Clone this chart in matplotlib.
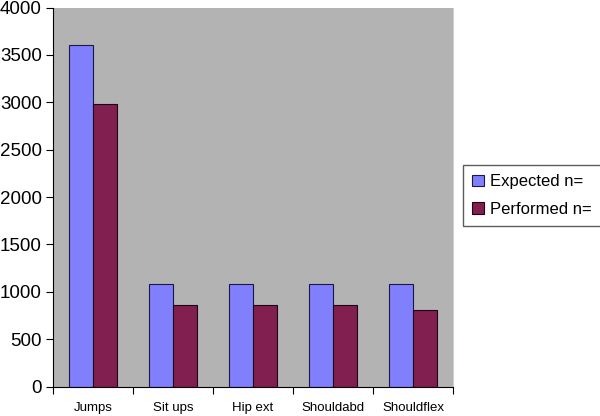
import matplotlib
matplotlib.use("Agg")
import matplotlib.pyplot as plt
import numpy as np

categories = ["Jumps", "Sit ups", "Hip ext", "Shouldabd", "Shouldflex"]
expected = [3600, 1080, 1080, 1080, 1080]
performed = [2980, 855, 855, 855, 810]
yticks = [0, 500, 1000, 1500, 2000, 2500, 3000, 3500, 4000]

plt.rcParams['font.family'] = ['Liberation Sans', 'DejaVu Sans']

fig = plt.figure(figsize=(6.0, 4.16), dpi=100)
ax = fig.add_axes([53/600, 1-386.5/416, 400/600, (386.5-7.5)/416])
ax.set_facecolor('#b3b3b3')

x = np.arange(len(categories))
w = 0.295
ax.bar(x - w/2, expected, w, color='#8080ff', edgecolor='#1a1a40', linewidth=0.8, label='Expected n=')
ax.bar(x + w/2, performed, w, color='#801f50', edgecolor='#200010', linewidth=0.8, label='Performed n=')

ax.set_xlim(-0.5, len(categories) - 0.5)
ax.set_ylim(0, 4000)
ax.set_yticks(yticks)
ax.set_yticklabels([str(v) for v in yticks], fontsize=13.5)
ax.set_xticks(np.arange(len(categories) + 1) - 0.5)
ax.set_xticklabels([])
ax.set_xticks(x, minor=True)
ax.set_xticklabels(categories, minor=True, fontsize=9.5)
ax.tick_params(axis='x', which='minor', length=0, pad=11)
ax.tick_params(axis='x', which='major', length=5, direction='out', width=0.8)
ax.tick_params(axis='y', length=5, direction='out', width=0.8, pad=3)

ax.spines['top'].set_visible(False)
ax.spines['right'].set_color('#d0d0d0')
ax.spines['left'].set_color('black')
ax.spines['bottom'].set_color('black')

leg = fig.legend(loc='upper left', bbox_to_anchor=(463/600, 1-165/416), fontsize=12,
                 frameon=True, fancybox=False, edgecolor='#333333', handlelength=0.7,
                 handleheight=0.7, handletextpad=0.4, borderpad=0.55, labelspacing=0.75,
                 borderaxespad=0)
leg.get_frame().set_linewidth(1.0)

fig.savefig('out.png', dpi=100, facecolor='white')
